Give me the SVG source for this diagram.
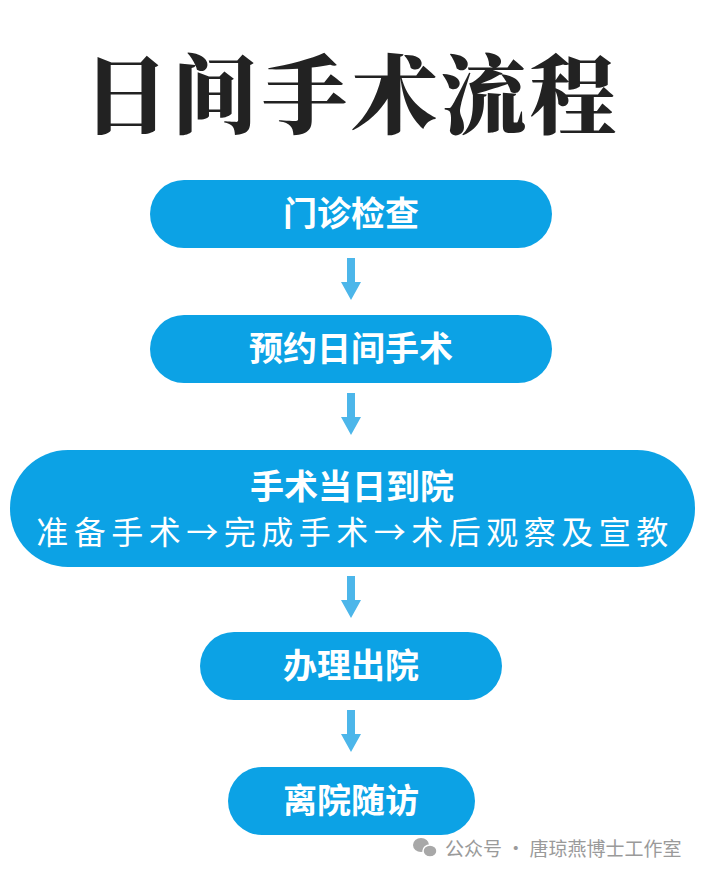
<svg xmlns="http://www.w3.org/2000/svg" width="705" height="876" viewBox="0 0 705 876">
<defs>
<style>
.pill{fill:#0ca2e5;}
.lbl{font-family:"Noto Sans CJK SC","Noto Sans",sans-serif;font-weight:700;font-size:34px;fill:#fff;text-anchor:middle;}
.sub{font-family:"Noto Sans CJK SC","Noto Sans",sans-serif;font-weight:400;font-size:32px;fill:#fff;text-anchor:middle;letter-spacing:5.5px;}
.arr{fill:#4cb6ea;}
.title{font-family:"Noto Serif CJK SC","Noto Sans CJK SC",serif;font-weight:900;font-size:86px;fill:#222;text-anchor:middle;letter-spacing:3.5px;}
.wm{font-family:"Noto Sans CJK SC","Noto Sans",sans-serif;font-size:19px;fill:#9a9a9a;}
</style>
<path id="down" d="M-4,0 H4 V24 H10 L0,42 L-10,24 H-4 Z"/>
</defs>
<rect width="705" height="876" fill="#fff"/>
<g id="title"><text class="title" x="351" y="127">日间手术流程</text></g>
<g id="connectors" class="arr">
<use href="#down" x="351" y="258"/>
<use href="#down" x="351" y="393"/>
<use href="#down" x="351" y="576"/>
<use href="#down" x="351" y="710"/>
</g>
<g id="n1"><rect class="pill" x="150" y="180" width="402" height="68" rx="34"/><text class="lbl" x="351" y="226">门诊检查</text></g>
<g id="n2"><rect class="pill" x="150" y="315" width="402" height="68" rx="34"/><text class="lbl" x="351" y="361">预约日间手术</text></g>
<g id="n3"><rect class="pill" x="10" y="450" width="685" height="117" rx="58"/><text class="lbl" x="352" y="499">手术当日到院</text><text class="sub" x="355" y="544">准备手术→完成手术→术后观察及宣教</text></g>
<g id="n4"><rect class="pill" x="200" y="632" width="302" height="68" rx="34"/><text class="lbl" x="351" y="678">办理出院</text></g>
<g id="n5"><rect class="pill" x="228" y="767" width="247" height="68" rx="34"/><text class="lbl" x="351" y="813">离院随访</text></g>
<g id="watermark">
<ellipse cx="421" cy="845" rx="8" ry="7" fill="#a8a8a8"/>
<ellipse cx="430" cy="851" rx="7" ry="6" fill="#a8a8a8" stroke="#fff" stroke-width="1.5"/>
<text class="wm" x="445" y="856">公众号 · 唐琼燕博士工作室</text>
</g>
</svg>
